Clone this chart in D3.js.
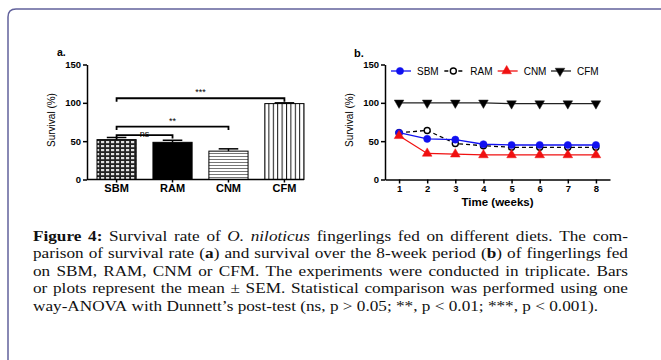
<!DOCTYPE html>
<html>
<head>
<meta charset="utf-8">
<script src="https://cdn.jsdelivr.net/npm/d3@7"></script>
<style>
  body { margin: 0; background: #fff; }
  svg { display: block; }
</style>
</head>
<body>
<div id="chart"></div>
<script>
// Panel a: mean survival per diet
const categories = ["SBM", "RAM", "CNM", "CFM"];
const meanSurvival = [52, 48.5, 37, 99];
const semSurvival = [2.8, 2.7, 3, 1];

// significance brackets (level in % survival)
const comparisons = [
  { from: "SBM", to: "RAM", label: "ns", level: 58 },
  { from: "SBM", to: "CNM", label: "**", level: 69 },
  { from: "SBM", to: "CFM", label: "***", level: 106 },
];

// Panel b: survival over time
const weeks = [1, 2, 3, 4, 5, 6, 7, 8];
const sbmSurvival = [61, 53, 52, 46, 45, 45, 45, 45];
const ramSurvival = [61, 64, 47, 44, 42, 42, 42, 42];
const cnmSurvival = [57, 34, 33, 32, 32, 32, 32, 32];
const cfmSurvival = [100, 100, 100, 100, 99, 99, 99, 99];

const yTicks = [0, 50, 100, 150];

// caption, each line is a list of [text, style]
const captionLines = [
  [["Figure 4:", "b"], [" Survival rate of ", ""], ["O. niloticus", "i"], [" fingerlings fed on different diets. The com-", ""]],
  [["parison of survival rate (", ""], ["a", "b"], [") and survival over the 8-week period (", ""], ["b", "b"], [") of fingerlings fed", ""]],
  [["on SBM, RAM, CNM or CFM. The experiments were conducted in triplicate. Bars", ""]],
  [["or plots represent the mean \u00b1 SEM. Statistical comparison was performed using one", ""]],
  [["way-ANOVA with Dunnett\u2019s post-test (ns, p > 0.05; **, p < 0.01; ***, p < 0.001).", ""]],
];

const width = 661;
const height = 360;
const sans = "'Liberation Sans', Arial, sans-serif";
const serif = "'Liberation Serif', 'Times New Roman', serif";

const svg = d3.select("#chart")
  .append("svg")
  .attr("width", width)
  .attr("height", height);

svg.append("rect").attr("width", width).attr("height", height).attr("fill", "#fff");

// frame around the figure
svg.append("path")
  .attr("d", "M8,360 L8,17 Q8,9 16,9 L661,9")
  .attr("fill", "none")
  .attr("stroke", "#62629c")
  .attr("stroke-width", 1.5);

// fill patterns for the bars
const defs = svg.append("defs");

const grid = defs.append("pattern")
  .attr("id", "grid").attr("patternUnits", "userSpaceOnUse")
  .attr("width", 5).attr("height", 4);
grid.append("rect").attr("width", 5).attr("height", 4).attr("fill", "#222");
grid.append("rect").attr("x", 1).attr("y", 1).attr("width", 3.2).attr("height", 2.2).attr("fill", "#e0e0e0");

const hstripe = defs.append("pattern")
  .attr("id", "hstripe").attr("patternUnits", "userSpaceOnUse")
  .attr("width", 4).attr("height", 3);
hstripe.append("rect").attr("width", 4).attr("height", 3).attr("fill", "#fff");
hstripe.append("rect").attr("width", 4).attr("height", 1).attr("fill", "#777");

const vstripe = defs.append("pattern")
  .attr("id", "vstripe").attr("patternUnits", "userSpaceOnUse")
  .attr("width", 4.4).attr("height", 4);
vstripe.append("rect").attr("width", 4.4).attr("height", 4).attr("fill", "#fff");
vstripe.append("rect").attr("width", 1).attr("height", 4).attr("fill", "#111");

const barFills = ["url(#grid)", "#000", "url(#hstripe)", "url(#vstripe)"];

function styleAxis(g, size) {
  g.select(".domain").attr("stroke-width", 1.5);
  g.selectAll(".tick line").attr("stroke-width", 1.5);
  g.selectAll(".tick text")
    .style("font-family", sans)
    .style("font-weight", "bold")
    .style("font-size", size + "px")
    .attr("fill", "#000");
}

// ---------- Panel a ----------
const yA = d3.scaleLinear().domain([0, 150]).range([179.5, 64.5]);
const xA = d3.scaleBand().domain(categories).range([97, 304]).paddingInner(0.3);
const bw = xA.bandwidth();

const gA = svg.append("g");

gA.selectAll("rect.bar")
  .data(categories)
  .join("rect")
  .attr("class", "bar")
  .attr("x", (d) => xA(d))
  .attr("y", (d, i) => yA(meanSurvival[i]))
  .attr("width", bw)
  .attr("height", (d, i) => yA(0) - yA(meanSurvival[i]))
  .attr("fill", (d, i) => barFills[i])
  .attr("stroke", "#000")
  .attr("stroke-width", 1);

// error bars (upper half only)
categories.forEach((c, i) => {
  const cx = xA(c) + bw / 2;
  gA.append("line")
    .attr("x1", cx).attr("x2", cx)
    .attr("y1", yA(meanSurvival[i])).attr("y2", yA(meanSurvival[i] + semSurvival[i]))
    .attr("stroke", "#000").attr("stroke-width", 1.5);
  gA.append("line")
    .attr("x1", cx - bw / 4).attr("x2", cx + bw / 4)
    .attr("y1", yA(meanSurvival[i] + semSurvival[i])).attr("y2", yA(meanSurvival[i] + semSurvival[i]))
    .attr("stroke", "#000").attr("stroke-width", 1.5);
});

// brackets
comparisons.forEach((c) => {
  const x1 = xA(c.from) + bw / 2;
  const x2 = xA(c.to) + bw / 2;
  const y = yA(c.level);
  gA.append("path")
    .attr("d", `M${x1},${y + 3.5} V${y} H${x2} V${y + 3.5}`)
    .attr("fill", "none")
    .attr("stroke", "#000")
    .attr("stroke-width", 1.8);
  gA.append("text")
    .attr("x", (x1 + x2) / 2)
    .attr("y", c.label === "ns" ? y + 2 : y - 3)
    .attr("text-anchor", "middle")
    .style("font-family", sans)
    .style("font-size", "9px")
    .text(c.label);
});

const yAxisA = gA.append("g")
  .attr("transform", "translate(87,0)")
  .call(d3.axisLeft(yA).tickValues(yTicks).tickSize(4).tickSizeOuter(0).tickPadding(2));
styleAxis(yAxisA, 9.5);

const xAxisA = gA.append("g")
  .attr("transform", `translate(0,${yA(0)})`)
  .call(d3.axisBottom(xA).tickSize(3).tickSizeOuter(0).tickPadding(2));
xAxisA.select(".domain").remove();
styleAxis(xAxisA, 11);
gA.append("line")
  .attr("x1", 87).attr("x2", xA.range()[1])
  .attr("y1", yA(0)).attr("y2", yA(0))
  .attr("stroke", "#000").attr("stroke-width", 1.5);

gA.append("text")
  .attr("transform", "translate(55,120) rotate(-90)")
  .attr("text-anchor", "middle")
  .style("font-family", sans)
  .style("font-size", "10px")
  .text("Survival (%)");

gA.append("text")
  .attr("x", 57).attr("y", 56)
  .style("font-family", sans)
  .style("font-weight", "bold")
  .style("font-size", "10.5px")
  .text("a.");

// ---------- Panel b ----------
const xB = d3.scaleLinear().domain([0.5, 8.5]).range([385, 610]);
const yB = d3.scaleLinear().domain([0, 150]).range([179.5, 64.5]);

const gB = svg.append("g");

const series = [
  { name: "SBM", values: sbmSurvival, color: "#1010f0", dash: null, marker: "circle", fill: "#1010f0" },
  { name: "RAM", values: ramSurvival, color: "#000", dash: "4,3", marker: "circle", fill: "#fff" },
  { name: "CNM", values: cnmSurvival, color: "#f01010", dash: null, marker: "up", fill: "#f01010" },
  { name: "CFM", values: cfmSurvival, color: "#222", dash: null, marker: "down", fill: "#000" },
];

function drawMarker(g, s, x, y) {
  if (s.marker === "circle") {
    g.append("circle")
      .attr("cx", x).attr("cy", y).attr("r", s.fill === "#fff" ? 3 : 3.6)
      .attr("fill", s.fill)
      .attr("stroke", s.color)
      .attr("stroke-width", s.fill === "#fff" ? 1.4 : 0.5);
  } else {
    g.append("path")
      .attr("d", d3.symbol(d3.symbolTriangle, 40)())
      .attr("transform", `translate(${x},${y})${s.marker === "down" ? " rotate(180)" : ""}`)
      .attr("fill", s.fill)
      .attr("stroke", s.color)
      .attr("stroke-width", 0.5);
  }
}

const line = d3.line()
  .x((d, i) => xB(weeks[i]))
  .y((d) => yB(d));

[series[3], series[1], series[0], series[2]].forEach((s) => {
  gB.append("path")
    .datum(s.values)
    .attr("fill", "none")
    .attr("stroke", s.color)
    .attr("stroke-width", 1.3)
    .attr("stroke-dasharray", s.dash)
    .attr("d", line);
  s.values.forEach((v, i) => drawMarker(gB, s, xB(weeks[i]), yB(v)));
});

const yAxisB = gB.append("g")
  .attr("transform", "translate(385,0)")
  .call(d3.axisLeft(yB).tickValues(yTicks).tickSize(4).tickSizeOuter(0).tickPadding(2));
styleAxis(yAxisB, 9.5);

const xAxisB = gB.append("g")
  .attr("transform", `translate(0,${yB(0)})`)
  .call(d3.axisBottom(xB).tickValues(weeks).tickSize(4).tickSizeOuter(0).tickPadding(2));
styleAxis(xAxisB, 9.5);

gB.append("text")
  .attr("x", (xB.range()[0] + xB.range()[1]) / 2).attr("y", 206)
  .attr("text-anchor", "middle")
  .style("font-family", sans)
  .style("font-weight", "bold")
  .style("font-size", "11.5px")
  .text("Time (weeks)");

gB.append("text")
  .attr("transform", "translate(353,120) rotate(-90)")
  .attr("text-anchor", "middle")
  .style("font-family", sans)
  .style("font-size", "10px")
  .text("Survival (%)");

gB.append("text")
  .attr("x", 354).attr("y", 57)
  .style("font-family", sans)
  .style("font-weight", "bold")
  .style("font-size", "11px")
  .text("b.");

// legend
const xLeg = d3.scalePoint().domain(series.map((s) => s.name)).range([391, 551]);
series.forEach((s) => {
  const lx = xLeg(s.name);
  const ly = 71;
  gB.append("line")
    .attr("x1", lx).attr("x2", lx + 20)
    .attr("y1", ly).attr("y2", ly)
    .attr("stroke", s.color)
    .attr("stroke-width", 1.3)
    .attr("stroke-dasharray", s.dash);
  drawMarker(gB, s, lx + 9, ly);
  gB.append("text")
    .attr("x", lx + 26).attr("y", ly + 3.5)
    .style("font-family", sans)
    .style("font-size", "10px")
    .text(s.name);
});

// ---------- Caption (justified) ----------
const capLeft = 33;
const capRight = 628;
const capLastRight = 598; // where the short last line ends
const capFont = 15.5;
const capY = d3.scaleLinear().domain([0, 4]).range([241, 311]);

function toWords(segments) {
  const words = [];
  let current = [];
  segments.forEach(([text, style]) => {
    text.split(" ").forEach((part, i) => {
      if (i > 0 && current.length) {
        words.push(current);
        current = [];
      }
      if (part) current.push({ text: part, style });
    });
  });
  if (current.length) words.push(current);
  return words;
}

const capG = svg.append("g");
const capLinesNodes = captionLines.map((segs, li) => {
  const words = toWords(segs);
  const nodes = words.map((w) => {
    const t = capG.append("text")
      .attr("y", capY(li))
      .style("font-family", serif)
      .style("font-size", capFont + "px")
      .attr("fill", "#111");
    w.forEach((p) => {
      t.append("tspan")
        .style("font-weight", p.style === "b" ? "bold" : "normal")
        .style("font-style", p.style === "i" ? "italic" : "normal")
        .text(p.text);
    });
    return t;
  });
  return { nodes, widths: nodes.map((t) => t.node().getComputedTextLength()) };
});

// the printed caption is a bit wider than the font: stretch horizontally
const space = capFont * 0.25;
const lastLine = capLinesNodes[capLinesNodes.length - 1];
const lastNatural = d3.sum(lastLine.widths) + space * (lastLine.nodes.length - 1);
const sx = (capLastRight - capLeft) / lastNatural;
capG.attr("transform", `translate(${capLeft},0) scale(${sx},1)`);

capLinesNodes.forEach((ln, li) => {
  const total = d3.sum(ln.widths);
  const last = li === capLinesNodes.length - 1;
  const gap = last ? space : ((capRight - capLeft) / sx - total) / (ln.nodes.length - 1);
  let x = 0;
  ln.nodes.forEach((t, i) => {
    t.attr("x", x);
    x += ln.widths[i] + gap;
  });
});
</script>
</body>
</html>
